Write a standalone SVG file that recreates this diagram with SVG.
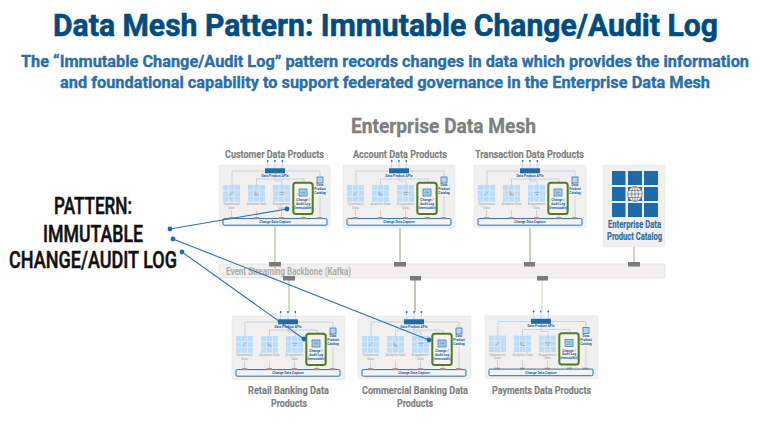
<svg xmlns="http://www.w3.org/2000/svg" width="770" height="433" viewBox="0 0 770 433">
<style>
text{font-family:"Roboto","Liberation Sans",sans-serif;font-weight:700}
.title{font-size:32px;fill:#004b7f;stroke:#004b7f;stroke-width:.6}
.sub{font-size:16.5px;fill:#2a6ea8;stroke:#2a6ea8;stroke-width:.35}
.pat{font-size:23px;fill:#111;font-weight:500;stroke:#111;stroke-width:.5}
.mesh{font-size:20.5px;fill:#7f7f7f;stroke:#7f7f7f;stroke-width:.3}
.hd{font-size:10.5px;fill:#7f7f7f;stroke:#7f7f7f;stroke-width:.15}
.cat{font-size:10px;fill:#2a6ea8;stroke:#2a6ea8;stroke-width:.15}
.bb{font-size:10.5px;fill:#adadad}
.panel{fill:#f1f0ee;stroke:#e6e5e3;stroke-width:.5}
.wire{fill:none;stroke:#bdd0e2;stroke-width:.9}
.drop{fill:none;stroke:#b3c2d0;stroke-width:.6}
.bar{fill:#1f6aa8}
.dot{fill:#1f6aa8}
.cdc{fill:#f4f3f1;stroke:#2a6ea8;stroke-width:1}
.tap{fill:#8c8c8c}
.audit{fill:#f4f3f1;stroke:#4c7d1e;stroke-width:2}
.t{font-size:3.3px;text-anchor:middle;fill:#1f5f99}
.g{font-size:3.1px;text-anchor:middle;fill:#9c9c9c;font-weight:400}
.cell{fill:#bcdcfb}
.glyph{fill:none;stroke:#8d9aa5;stroke-width:.7}
.ico{fill:#b8d4ec;stroke:#2a6ea8;stroke-width:.7}
.link{fill:none;stroke-width:1.2}
.ptr{fill:none;stroke:#2a72ae;stroke-width:1.1}
.block{fill:#7a7a7a}
</style>
<defs>
<g id="grid">
<rect class="cell" x="0" y="0" width="5.3" height="5.2"/><rect class="cell" x="5.85" y="0" width="5.3" height="5.2"/><rect class="cell" x="11.7" y="0" width="5.3" height="5.2"/>
<rect class="cell" x="0" y="5.75" width="5.3" height="5.2"/><rect class="cell" x="5.85" y="5.75" width="5.3" height="5.2"/><rect class="cell" x="11.7" y="5.75" width="5.3" height="5.2"/>
<rect class="cell" x="0" y="11.5" width="5.3" height="5.2"/><rect class="cell" x="5.85" y="11.5" width="5.3" height="5.2"/><rect class="cell" x="11.7" y="11.5" width="5.3" height="5.2"/>
</g>
<g id="body">
<path class="wire" d="M46 6H13V20M66 6H101V12M37.5 20V14H85V18M56 8V16H63V20"/>
<path class="wire" d="M48.7-3V4M56-3V4M63.3-3V4"/>
<circle class="dot" cx="48.7" cy="-4" r=".9"/><circle class="dot" cx="56" cy="-4" r=".9"/><circle class="dot" cx="63.3" cy="-4" r=".9"/>
<rect class="bar" x="46" y="3.3" width="20" height="5"/>
<use href="#grid" x="4" y="20"/><use href="#grid" x="29" y="20"/><use href="#grid" x="54" y="20"/>
<path class="glyph" d="M10.6 30.2L14.2 26.4M36 26.4V30H40M36.4 29.4L38 27.8M60.4 27.4H65.6M61.8 29.6H64.2"/>
<path class="drop" d="M12.5 45V53M37.5 45V53M62.5 45V53M85 49V53M101 31V53"/>
<rect class="cdc" x="4" y="53.6" width="104" height="6.6" rx="1.2"/>
<rect class="tap" x="9.8" y="52.2" width="5.2" height="1.8"/><rect class="tap" x="34.8" y="52.2" width="5.2" height="1.8"/><rect class="tap" x="59.8" y="52.2" width="5.2" height="1.8"/><rect class="tap" x="82" y="52.2" width="5.2" height="1.8"/><rect class="tap" x="98" y="52.2" width="5.2" height="1.8"/>
<rect class="audit" x="74.3" y="17.8" width="19.4" height="31.2" rx="2.5"/>
<rect class="ico" x="80" y="24" width="8" height="7"/>
<path class="wire" d="M81.5 26H86.5M81.5 27.5H86.5M81.5 29H86.5" style="stroke:#2a6ea8;stroke-width:.4"/>
<rect class="ico" x="98" y="12" width="6" height="6"/>
</g>
</defs>

<g id="heading">
<text class="title" x="53" y="36" textLength="665" lengthAdjust="spacingAndGlyphs">Data Mesh Pattern: Immutable Change/Audit Log</text>
<text class="sub" x="21" y="67" textLength="728" lengthAdjust="spacingAndGlyphs">The “Immutable Change/Audit Log” pattern records changes in data which provides the information</text>
<text class="sub" x="60" y="88" textLength="650" lengthAdjust="spacingAndGlyphs">and foundational capability to support federated governance in the Enterprise Data Mesh</text>
<text class="mesh" x="351" y="133" textLength="185" lengthAdjust="spacingAndGlyphs">Enterprise Data Mesh</text>
</g>

<g id="pattern-label">
<text class="pat" x="54" y="214" textLength="78" lengthAdjust="spacingAndGlyphs">PATTERN:</text>
<text class="pat" x="43" y="242" textLength="100" lengthAdjust="spacingAndGlyphs">IMMUTABLE</text>
<text class="pat" x="9" y="268" textLength="168" lengthAdjust="spacingAndGlyphs">CHANGE/AUDIT LOG</text>
</g>

<g id="backbone">
<rect x="219" y="264" width="446" height="14" rx="2" fill="#f1f0ee" stroke="#e2e1df" stroke-width=".8"/>
<text class="bb" x="226" y="275" textLength="125" lengthAdjust="spacingAndGlyphs">Event Streaming Backbone (Kafka)</text>
</g>

<g id="customer-data-products">
<text class="hd" x="225" y="158" textLength="99" lengthAdjust="spacingAndGlyphs">Customer Data Products</text>
<g transform="translate(219 165)">
<rect class="panel" width="111" height="62" rx="1"/>
<use href="#body"/>
<text class="t" x="56" y="11.8">Data Product APIs</text>
<text class="g" x="12.5" y="40">Operational</text><text class="g" x="12.5" y="43.7">Data</text>
<text class="g" x="37.5" y="40">Analytics Data</text>
<text class="g" x="62.5" y="40">Engagement</text><text class="g" x="62.5" y="43.7">Data</text>
<text class="t" x="84" y="36">Change /</text><text class="t" x="84" y="39.8">Audit Log</text><text class="t" x="84" y="43.6">(Immutable)</text>
<text class="t" x="101" y="21">Data</text><text class="t" x="101" y="25">Product</text><text class="t" x="101" y="29">Catalog</text>
<text class="t" x="56" y="58.2">Change Data Capture</text>
</g>
</g>

<g id="account-data-products">
<text class="hd" x="353" y="158" textLength="94" lengthAdjust="spacingAndGlyphs">Account Data Products</text>
<g transform="translate(343 165)">
<rect class="panel" width="112" height="63" rx="1"/>
<use href="#body"/>
<text class="t" x="56" y="11.8">Data Product APIs</text>
<text class="g" x="12.5" y="40">Operational</text><text class="g" x="12.5" y="43.7">Data</text>
<text class="g" x="37.5" y="40">Analytics Data</text>
<text class="g" x="62.5" y="40">Engagement</text><text class="g" x="62.5" y="43.7">Data</text>
<text class="t" x="84" y="36">Change /</text><text class="t" x="84" y="39.8">Audit Log</text><text class="t" x="84" y="43.6">(Immutable)</text>
<text class="t" x="101" y="21">Data</text><text class="t" x="101" y="25">Product</text><text class="t" x="101" y="29">Catalog</text>
<text class="t" x="56" y="58.2">Change Data Capture</text>
</g>
</g>

<g id="transaction-data-products">
<text class="hd" x="475" y="158" textLength="109" lengthAdjust="spacingAndGlyphs">Transaction Data Products</text>
<g transform="translate(474 165)">
<rect class="panel" width="112" height="63" rx="1"/>
<use href="#body"/>
<text class="t" x="56" y="11.8">Data Product APIs</text>
<text class="g" x="12.5" y="40">Operational</text><text class="g" x="12.5" y="43.7">Data</text>
<text class="g" x="37.5" y="40">Analytics Data</text>
<text class="g" x="62.5" y="40">Engagement</text><text class="g" x="62.5" y="43.7">Data</text>
<text class="t" x="84" y="36">Change /</text><text class="t" x="84" y="39.8">Audit Log</text><text class="t" x="84" y="43.6">(Immutable)</text>
<text class="t" x="101" y="21">Data</text><text class="t" x="101" y="25">Product</text><text class="t" x="101" y="29">Catalog</text>
<text class="t" x="56" y="58.2">Change Data Capture</text>
</g>
</g>

<g id="enterprise-data-product-catalog">
<rect class="panel" x="603" y="165" width="62" height="82" rx="2" stroke="#dcdbd9"/>
<g fill="#1f6aa8">
<rect x="612" y="171" width="13.5" height="14"/><rect x="628" y="171" width="14" height="14"/><rect x="644" y="171" width="14" height="14"/>
<rect x="612" y="187" width="13.5" height="14"/><rect x="628" y="187" width="14" height="14"/><rect x="644" y="187" width="14" height="14"/>
<rect x="612" y="203" width="13.5" height="14"/><rect x="628" y="203" width="14" height="14"/><rect x="644" y="203" width="14" height="14"/>
</g>
<g fill="none" stroke="#6f7275" stroke-width=".7">
<circle cx="635" cy="194" r="7.4" fill="#f1f0ee"/><ellipse cx="635" cy="194" rx="3.4" ry="7.4"/><path d="M627.6 194H642.4M628.5 190.5H641.5M628.5 197.5H641.5M635 186.6V201.4"/>
</g>
<text class="cat" x="608" y="228" textLength="53" lengthAdjust="spacingAndGlyphs">Enterprise Data</text>
<text class="cat" x="607" y="240" textLength="55" lengthAdjust="spacingAndGlyphs">Product Catalog</text>
</g>

<g id="retail-banking-data-products">
<g transform="translate(232 316)">
<rect class="panel" width="113" height="64" rx="1"/>
<use href="#body"/>
<text class="t" x="56" y="11.8">Data Product APIs</text>
<text class="g" x="12.5" y="40">Operational</text><text class="g" x="12.5" y="43.7">Data</text>
<text class="g" x="37.5" y="40">Analytics Data</text>
<text class="g" x="62.5" y="40">Engagement</text><text class="g" x="62.5" y="43.7">Data</text>
<text class="t" x="84" y="36">Change /</text><text class="t" x="84" y="39.8">Audit Log</text><text class="t" x="84" y="43.6">(Immutable)</text>
<text class="t" x="101" y="21">Data</text><text class="t" x="101" y="25">Product</text><text class="t" x="101" y="29">Catalog</text>
<text class="t" x="56" y="58.2">Change Data Capture</text>
</g>
<text class="hd" x="248" y="394" textLength="81" lengthAdjust="spacingAndGlyphs">Retail Banking Data</text>
<text class="hd" x="271" y="407" textLength="36" lengthAdjust="spacingAndGlyphs">Products</text>
</g>

<g id="commercial-banking-data-products">
<g transform="translate(358 316)">
<rect class="panel" width="113" height="63" rx="1"/>
<use href="#body"/>
<text class="t" x="56" y="11.8">Data Product APIs</text>
<text class="g" x="12.5" y="40">Operational</text><text class="g" x="12.5" y="43.7">Data</text>
<text class="g" x="37.5" y="40">Analytics Data</text>
<text class="g" x="62.5" y="40">Engagement</text><text class="g" x="62.5" y="43.7">Data</text>
<text class="t" x="84" y="36">Change /</text><text class="t" x="84" y="39.8">Audit Log</text><text class="t" x="84" y="43.6">(Immutable)</text>
<text class="t" x="101" y="21">Data</text><text class="t" x="101" y="25">Product</text><text class="t" x="101" y="29">Catalog</text>
<text class="t" x="56" y="58.2">Change Data Capture</text>
</g>
<text class="hd" x="362" y="394" textLength="106" lengthAdjust="spacingAndGlyphs">Commercial Banking Data</text>
<text class="hd" x="397" y="407" textLength="36" lengthAdjust="spacingAndGlyphs">Products</text>
</g>

<g id="payments-data-products">
<g transform="translate(485 315.5)">
<rect class="panel" width="113" height="63" rx="1"/>
<use href="#body"/>
<text class="t" x="56" y="11.8">Data Product APIs</text>
<text class="g" x="12.5" y="40">Operational</text><text class="g" x="12.5" y="43.7">Data</text>
<text class="g" x="37.5" y="40">Analytics Data</text>
<text class="g" x="62.5" y="40">Engagement</text><text class="g" x="62.5" y="43.7">Data</text>
<text class="t" x="84" y="36">Change /</text><text class="t" x="84" y="39.8">Audit Log</text><text class="t" x="84" y="43.6">(Immutable)</text>
<text class="t" x="101" y="21">Data</text><text class="t" x="101" y="25">Product</text><text class="t" x="101" y="29">Catalog</text>
<text class="t" x="56" y="58.2">Change Data Capture</text>
</g>
<text class="hd" x="492" y="394" textLength="99" lengthAdjust="spacingAndGlyphs">Payments Data Products</text>
</g>

<g id="connectors">
<path class="link" stroke="#a9c08a" d="M275 227V262"/>
<path class="link" stroke="#a3b28a" d="M400 228V262"/>
<path class="link" stroke="#a3b28a" d="M530 228V262"/>
<path class="link" stroke="#a9c08a" d="M634 247V262"/>
<path class="link" stroke="#b0c692" d="M289 280V312"/>
<path class="link" stroke="#93a97a" d="M415 280V312"/>
<path class="link" stroke="#d3e2c3" d="M542 280V312"/>
<rect class="block" x="269" y="262" width="12" height="4.5"/>
<rect class="block" x="394" y="262" width="12" height="4.5"/>
<rect class="block" x="524" y="262" width="11" height="4.5"/>
<rect class="block" x="628" y="262" width="12" height="4.5"/>
<rect class="block" x="283" y="276" width="12" height="4.5"/>
<rect class="block" x="410" y="276" width="11" height="4.5"/>
<rect class="block" x="537" y="276" width="11" height="4.5"/>
<path class="ptr" d="M170 229L287 209"/>
<path class="ptr" d="M173 239L429 340"/>
<path class="ptr" d="M182 252L304 339"/>
<circle class="dot" cx="170" cy="229" r="2.4"/><circle class="dot" cx="287" cy="209" r="2.4"/>
<circle class="dot" cx="173" cy="239" r="2.4"/><circle class="dot" cx="429" cy="340" r="2.4"/>
<circle class="dot" cx="182" cy="252" r="2.4"/><circle class="dot" cx="304" cy="339" r="2.4"/>
</g>
</svg>
